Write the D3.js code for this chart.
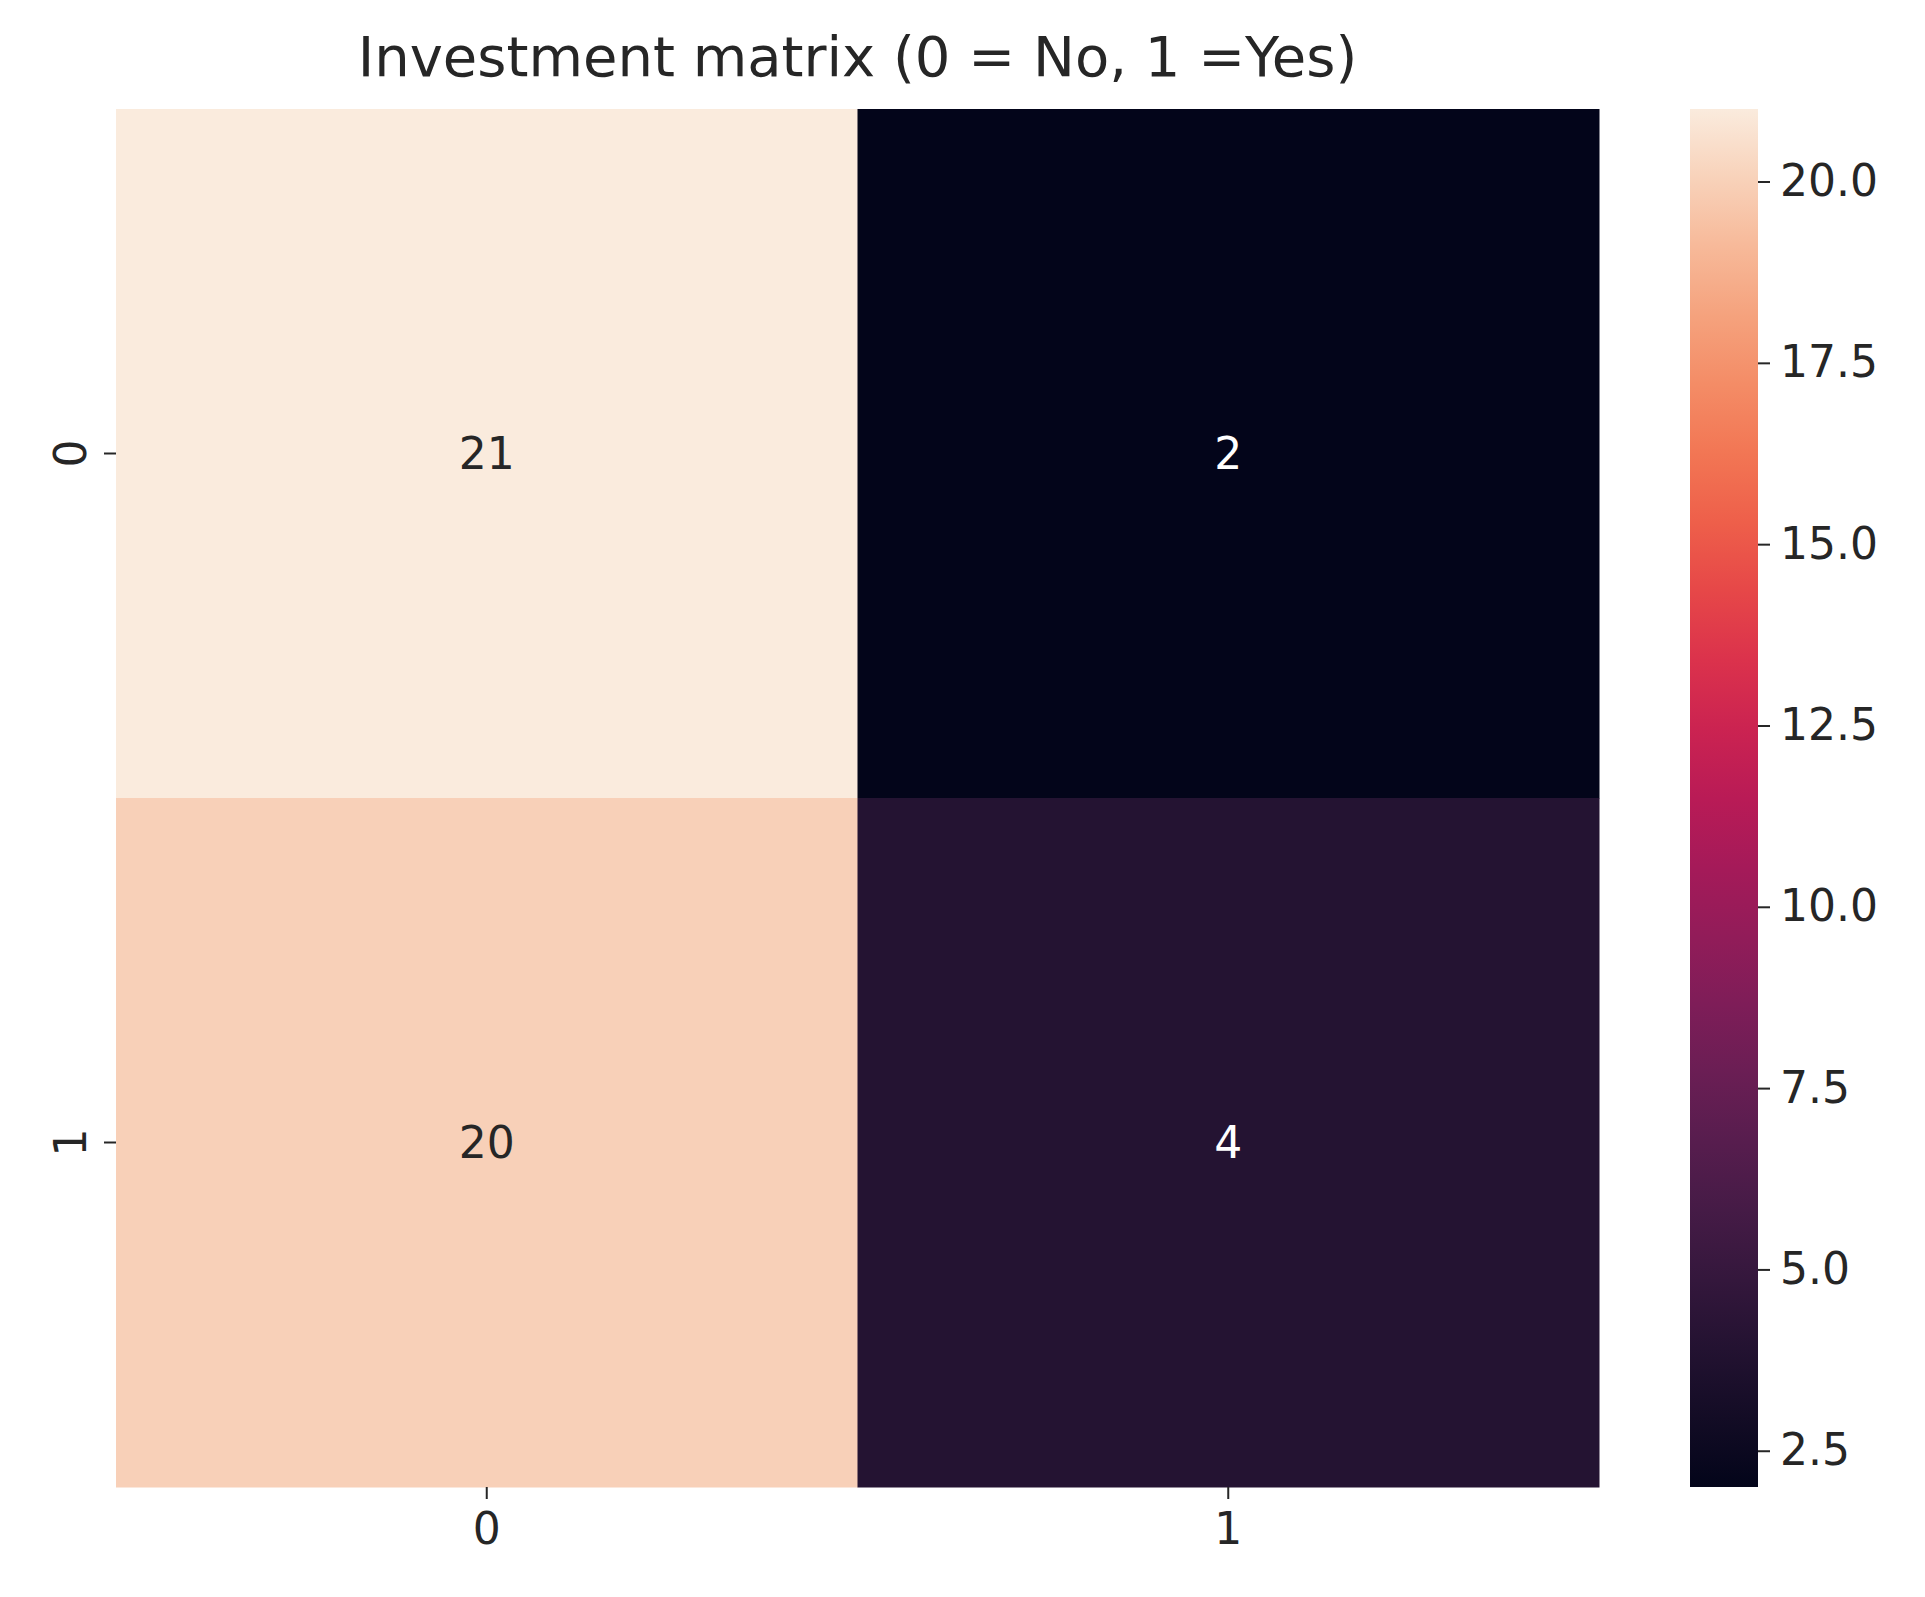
<!DOCTYPE html>
<html>
<head>
<meta charset="utf-8">
<script src="https://cdn.jsdelivr.net/npm/d3@7"></script>
<style>
  body { margin: 0; background: #fff; }
  text { font-family: "DejaVu Sans", sans-serif; }
</style>
</head>
<body>
<script>
var rows = ["0", "1"];
var cols = ["0", "1"];
var values = [[21, 2], [20, 4]];
var cbTicks = [2.5, 5.0, 7.5, 10.0, 12.5, 15.0, 17.5, 20.0];
var title = "Investment matrix (0 = No, 1 =Yes)";

var width = 1925, height = 1597;
var plotLeft = 116, plotRight = 1599, plotTop = 109, plotBottom = 1487;

// rocket colormap stops
var rocket = ["#03051a", "#221331", "#451c47", "#691f55", "#921c5b", "#b91657",
              "#de2d4b", "#f06043", "#f58c62", "#f6b896", "#faebdd"];
var interp = d3.interpolateRgbBasis(rocket);
var color = d3.scaleSequential(interp).domain([2, 21]);

var svg = d3.select("body").append("svg")
    .attr("width", width)
    .attr("height", height);

var x = d3.scaleBand().domain(cols).range([plotLeft, plotRight]);
var y = d3.scaleBand().domain(rows).range([plotTop, plotBottom]);

var cells = [];
rows.forEach(function (r, i) {
  cols.forEach(function (c, j) {
    cells.push({ r: r, c: c, v: values[i][j] });
  });
});

svg.append("g").selectAll("rect")
    .data(cells)
  .enter().append("rect")
    .attr("x", function (d) { return x(d.c); })
    .attr("y", function (d) { return y(d.r); })
    .attr("width", x.bandwidth() + 0.5)
    .attr("height", y.bandwidth() + 0.5)
    .attr("fill", function (d) { return color(d.v); });

svg.append("g").selectAll("text")
    .data(cells)
  .enter().append("text")
    .attr("x", function (d) { return x(d.c) + x.bandwidth() / 2; })
    .attr("y", function (d) { return y(d.r) + y.bandwidth() / 2; })
    .attr("text-anchor", "middle")
    .attr("dominant-baseline", "central")
    .attr("font-size", 44)
    .attr("fill", function (d) { return d.v > 11 ? "#262626" : "#ffffff"; })
    .text(function (d) { return d.v; });

var xAxis = svg.append("g")
    .attr("transform", "translate(0," + plotBottom + ")")
    .call(d3.axisBottom(x).tickSize(12).tickPadding(14));
xAxis.select(".domain").remove();
xAxis.selectAll("text").attr("font-size", 44).attr("fill", "#262626")
    .style("font-family", "DejaVu Sans");
xAxis.selectAll("line").attr("stroke", "#262626").attr("stroke-width", 2);

var yAxis = svg.append("g")
    .attr("transform", "translate(" + plotLeft + ",0)")
    .call(d3.axisLeft(y).tickSize(12).tickPadding(0));
yAxis.select(".domain").remove();
yAxis.selectAll("line").attr("stroke", "#262626").attr("stroke-width", 2);
yAxis.selectAll("text")
    .attr("font-size", 44).attr("fill", "#262626")
    .style("font-family", "DejaVu Sans")
    .attr("text-anchor", "middle")
    .attr("x", 0).attr("dy", 0)
    .attr("transform", "translate(-46,0) rotate(-90)")
    .attr("dominant-baseline", "central");

// colorbar
var cbLeft = 1690, cbWidth = 68;
var cbScale = d3.scaleLinear().domain([2, 21]).range([plotBottom, plotTop]);
var defs = svg.append("defs");
var grad = defs.append("linearGradient").attr("id", "cb")
    .attr("x1", 0).attr("y1", 1).attr("x2", 0).attr("y2", 0);
d3.range(0, 1.0001, 0.05).forEach(function (t) {
  grad.append("stop").attr("offset", t).attr("stop-color", interp(t));
});
svg.append("rect")
    .attr("x", cbLeft).attr("y", plotTop)
    .attr("width", cbWidth).attr("height", plotBottom - plotTop)
    .attr("fill", "url(#cb)");

var cbAxis = svg.append("g")
    .attr("transform", "translate(" + (cbLeft + cbWidth) + ",0)")
    .call(d3.axisRight(cbScale).tickValues(cbTicks).tickFormat(d3.format(".1f"))
      .tickSize(12).tickPadding(10));
cbAxis.select(".domain").remove();
cbAxis.selectAll("line").attr("stroke", "#262626").attr("stroke-width", 2);
cbAxis.selectAll("text").attr("font-size", 44).attr("fill", "#262626")
    .style("font-family", "DejaVu Sans");

svg.append("text")
    .attr("x", (plotLeft + plotRight) / 2)
    .attr("y", 76)
    .attr("text-anchor", "middle")
    .attr("font-size", 56)
    .attr("fill", "#262626")
    .text(title);
</script>
</body>
</html>
